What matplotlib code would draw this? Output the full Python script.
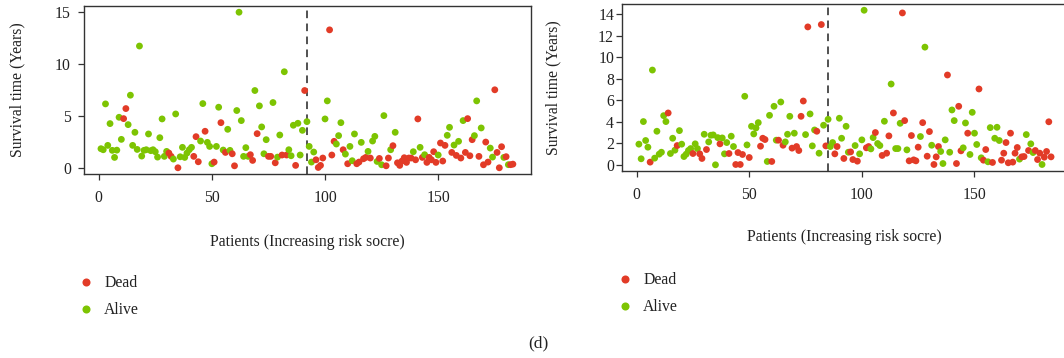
import matplotlib
matplotlib.use("Agg")
import matplotlib.pyplot as plt
from matplotlib.lines import Line2D
import numpy as np

plt.rcParams['font.family'] = ['Liberation Serif', 'DejaVu Serif']

# ---------------- data ----------------
# status: 1 = Dead, 0 = Alive (patients ordered by increasing risk score)
left_time = [
    1.84, 1.74, 6.16, 2.16, 4.26, 1.68, 1.00, 1.70, 4.87, 2.74,
    4.74, 5.71, 4.16, 7.00, 2.16, 3.42, 1.77, 11.74, 1.13, 1.68,
    1.74, 3.26, 1.65, 1.74, 1.55, 1.03, 2.90, 4.71, 1.10, 1.58,
    1.42, 1.10, 0.84, 5.19, 0.00, 1.06, 1.97, 1.00, 1.42, 1.74,
    1.97, 1.10, 3.00, 0.58, 2.58, 6.19, 3.52, 2.45, 2.06, 0.39,
    0.55, 2.06, 5.84, 4.35, 1.71, 1.48, 3.71, 1.68, 1.35, 0.19,
    5.52, 15.00, 4.55, 1.10, 1.94, 1.10, 1.26, 0.71, 7.45, 3.29,
    5.97, 3.94, 1.35, 2.71, 1.10, 1.10, 6.29, 0.48, 1.03, 3.16,
    1.23, 9.26, 1.23, 1.74, 1.16, 4.10, 0.23, 4.29, 1.23, 3.61,
    7.45, 4.45, 2.06, 0.55, 1.52, 0.77, 0.03, 0.23, 0.94, 4.71,
    6.45, 13.30, 1.23, 2.55, 2.29, 3.10, 4.35, 1.74, 1.32, 0.39,
    2.06, 0.68, 3.26, 0.39, 0.55, 2.45, 0.87, 1.00, 1.58, 0.94,
    2.58, 3.03, 0.61, 0.90, 0.29, 5.03, 0.19, 0.94, 1.74, 2.13,
    3.42, 0.48, 0.23, 0.65, 0.97, 0.52, 0.94, 0.94, 1.55, 0.77,
    4.71, 1.97, 1.00, 1.26, 0.52, 1.00, 0.77, 1.55, 0.52, 1.23,
    2.39, 0.65, 2.16, 3.13, 3.90, 1.48, 2.19, 1.19, 2.55, 0.94,
    4.55, 1.48, 4.74, 1.16, 2.71, 3.10, 6.45, 1.10, 3.84, 0.29,
    2.48, 0.55, 1.90, 1.03, 7.52, 1.48, 0.00, 2.03, 1.00, 1.07,
    0.30, 0.30, 0.35,
]
left_status = [
    0, 0, 0, 0, 0, 0, 0, 0, 0, 0,
    1, 1, 0, 0, 0, 0, 0, 0, 0, 0,
    0, 0, 0, 0, 0, 0, 0, 0, 0, 0,
    1, 1, 0, 0, 1, 0, 0, 0, 0, 0,
    0, 1, 1, 1, 0, 0, 1, 0, 0, 0,
    1, 0, 0, 1, 0, 1, 0, 0, 1, 1,
    0, 0, 0, 0, 0, 0, 1, 1, 0, 1,
    0, 0, 0, 0, 1, 1, 0, 1, 0, 0,
    1, 0, 1, 0, 0, 0, 1, 0, 0, 0,
    1, 0, 0, 0, 0, 1, 1, 1, 1, 0,
    0, 1, 1, 1, 0, 0, 0, 1, 0, 1,
    0, 0, 0, 1, 1, 0, 1, 1, 0, 1,
    0, 0, 0, 1, 0, 0, 1, 1, 0, 1,
    0, 1, 1, 1, 1, 1, 1, 1, 0, 1,
    1, 0, 1, 0, 1, 1, 1, 1, 1, 0,
    1, 1, 1, 0, 0, 1, 0, 1, 0, 1,
    0, 1, 1, 1, 1, 0, 0, 1, 0, 1,
    1, 1, 0, 0, 1, 1, 1, 1, 0, 1,
    0, 1, 1,
]
left_cutoff = 92

right_time = [
    1.92, 0.56, 4.02, 2.26, 1.64, 0.25, 8.81, 0.62, 3.12, 0.99,
    1.17, 4.57, 4.02, 4.82, 1.05, 2.47, 1.36, 1.79, 3.18, 1.92,
    0.77, 0.99, 1.33, 1.51, 1.05, 1.95, 1.51, 1.02, 0.59, 2.84,
    1.42, 2.13, 2.75, 2.78, 0.00, 2.53, 1.95, 2.50, 1.02, 2.07,
    1.05, 2.66, 1.70, 0.03, 1.14, 0.03, 0.96, 6.37, 1.85, 0.68,
    3.58, 2.87, 3.43, 3.92, 1.73, 2.47, 2.35, 0.31, 4.60, 0.31,
    5.44, 2.29, 2.29, 5.84, 1.82, 2.13, 2.84, 4.51, 1.55, 2.94,
    1.70, 1.33, 4.51, 5.93, 2.81, 12.82, 4.73, 1.76, 3.24, 3.12,
    1.08, 13.04, 3.68, 1.76, 4.23, 1.70, 2.07, 1.02, 1.70, 4.33,
    2.47, 0.59, 3.58, 1.17, 1.20, 0.49, 1.79, 0.34, 1.02, 2.32,
    14.37, 1.58, 1.70, 1.48, 2.53, 3.00, 1.98, 1.79, 0.87, 4.05,
    1.08, 2.69, 7.51, 4.82, 1.51, 1.51, 3.86, 14.12, 4.11, 1.39,
    0.37, 2.72, 0.46, 0.37, 1.64, 2.63, 3.92, 10.94, 0.80, 3.09,
    1.82, 0.03, 0.74, 1.70, 1.24, 0.12, 2.32, 8.35, 1.17, 5.10,
    4.11, 0.12, 5.44, 1.30, 1.58, 3.89, 2.94, 0.96, 4.88, 2.94,
    1.89, 7.05, 0.65, 0.43, 1.42, 0.28, 3.46, 0.22, 2.47, 3.49,
    2.26, 0.43, 1.08, 2.07, 0.19, 2.94, 0.25, 1.08, 1.61, 0.53,
    0.74, 0.77, 2.81, 1.33, 1.95, 1.14, 1.33, 0.49, 1.08, 0.03,
    0.71, 1.24, 4.00, 0.74,
]
right_status = [
    0, 0, 0, 0, 0, 1, 0, 0, 0, 0,
    0, 0, 0, 1, 0, 0, 0, 1, 0, 0,
    0, 0, 0, 0, 1, 0, 0, 1, 1, 0,
    1, 0, 0, 0, 0, 0, 1, 0, 0, 0,
    1, 0, 0, 1, 1, 1, 1, 0, 0, 1,
    0, 0, 0, 0, 1, 1, 1, 0, 0, 1,
    0, 0, 1, 0, 1, 0, 0, 0, 1, 0,
    1, 1, 1, 1, 0, 1, 0, 0, 0, 1,
    0, 1, 0, 1, 0, 0, 0, 1, 1, 0,
    0, 1, 0, 0, 1, 1, 0, 1, 0, 0,
    0, 1, 1, 0, 0, 1, 0, 0, 1, 0,
    1, 1, 0, 1, 0, 0, 0, 1, 1, 0,
    1, 1, 1, 1, 1, 0, 1, 0, 1, 1,
    0, 1, 1, 1, 0, 0, 0, 1, 0, 0,
    0, 1, 1, 1, 0, 0, 1, 0, 0, 0,
    0, 1, 0, 1, 1, 0, 0, 1, 0, 0,
    0, 1, 1, 1, 1, 1, 1, 1, 1, 0,
    1, 1, 0, 1, 0, 0, 1, 1, 1, 0,
    1, 1, 1, 1,
]
right_cutoff = 85

legend_labels = ["Dead", "Alive"]
x_ticks = [0, 50, 100, 150]
left_yticks = [0, 5, 10, 15]
right_yticks = [0, 2, 4, 6, 8, 10, 12, 14]

# ---------------- style ----------------
RED = "#E23B27"
GREEN = "#7DC402"
FS = 11.3
W, H = 1064, 358
fig = plt.figure(figsize=(W / 100, H / 100), dpi=100)

def px_axes(l, t, r, b):
    return fig.add_axes([l / W, 1 - b / H, (r - l) / W, (b - t) / H])

def draw(ax, times, status, cutoff, yticks, xlim, ylim, ypad):
    x = np.arange(1, len(times) + 1)
    cols = [RED if s == 1 else GREEN for s in status]
    ax.scatter(x, times, c=cols, s=24, linewidths=0, zorder=3)
    ax.axvline(cutoff, color="#222222", lw=1.1, ls=(0, (5, 3.5)), zorder=2)
    ax.set_xlim(*xlim)
    ax.set_ylim(*ylim)
    ax.set_xticks(x_ticks)
    ax.set_yticks(yticks)
    for sp in ax.spines.values():
        sp.set_color("#333333")
        sp.set_linewidth(1.0)
    ax.tick_params(axis="both", direction="out", length=4.5, width=0.9,
                   color="#333333", labelsize=FS, labelcolor="#222222")
    ax.tick_params(axis="x", pad=7.0)
    ax.tick_params(axis="y", pad=ypad)
    ax.set_ylabel("Survival time (Years)", fontsize=FS, color="#222222")
    ax.set_xlabel("Patients (Increasing risk socre)", fontsize=FS, color="#222222")
    ax.xaxis.label.set_verticalalignment("center")
    ax.yaxis.label.set_verticalalignment("center")

# left panel
axL = px_axes(84, 6, 531, 174)
draw(axL, left_time, left_status, left_cutoff, left_yticks,
     (-6.5, 191.0), (-0.6, 15.6), 5.0)
axL.xaxis.set_label_coords(0.5, (174 - 242) / 168)
axL.yaxis.set_label_coords((17.5 - 84) / 447, 0.5)

# right panel (cropped on the right like the reference)
axR = px_axes(622, 4, 1067.5, 171)
draw(axR, right_time, right_status, right_cutoff, right_yticks,
     (-6.5, 191.3), (-0.575, 14.95), 1.2)
axR.xaxis.set_label_coords(0.5, (171 - 237) / 167)
axR.yaxis.set_label_coords((553 - 622) / 445.5, 0.5)

handles = [Line2D([], [], ls="none", marker="o", ms=5.8, mec="none", mfc=RED),
           Line2D([], [], ls="none", marker="o", ms=5.8, mec="none", mfc=GREEN)]

for x0, y0 in [(80, 275), (619, 272)]:
    fig.legend(handles, legend_labels, loc="upper left",
               bbox_to_anchor=(x0 / W, 1 - y0 / H), frameon=False,
               fontsize=FS, handlelength=0.8, handletextpad=0.75,
               labelspacing=0.72, borderpad=0, borderaxespad=0,
               labelcolor="#222222")

fig.text(538 / W, 1 - 343 / H, "(d)", fontsize=12.5, ha="center", va="center",
         color="#222222")

fig.savefig("out.png", dpi=100)
